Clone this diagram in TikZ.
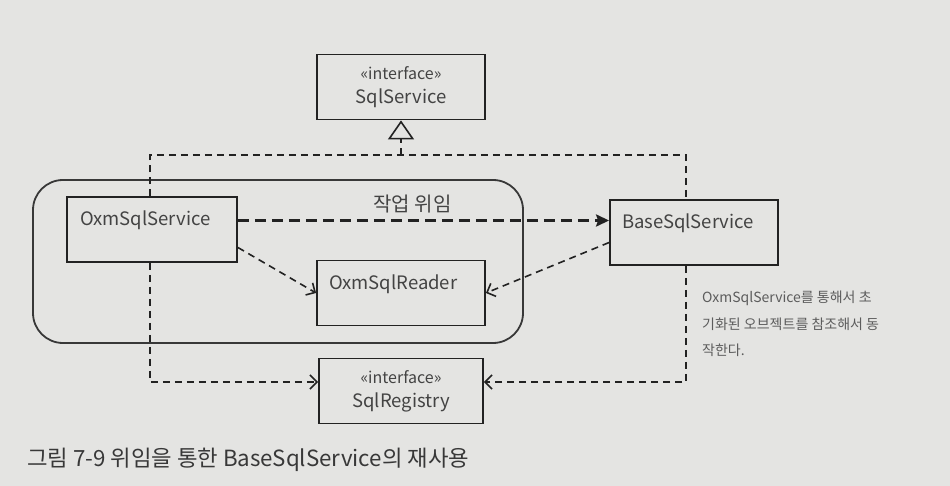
\documentclass[tikz,border=0pt]{standalone}
\usepackage{fontspec}
\setmainfont{Noto Sans CJK KR}
\usetikzlibrary{arrows.meta,positioning}
\definecolor{paper}{HTML}{E4E4E2}
\definecolor{ink}{HTML}{222222}
\definecolor{notegray}{HTML}{5C5C5C}
\tikzstyle{cls}=[draw=ink,line width=1.8pt,rectangle,minimum width=168pt,
minimum height=65pt,inner sep=0pt,text=ink!85,font=\fontsize{18.5}{22}\selectfont]
\tikzstyle{cls2}=[cls,align=left,text width=144pt]
\tikzstyle{iface}=[cls,align=center]
\tikzstyle{dep}=[draw=ink,line width=1.6pt,dash pattern=on 7pt off 5pt,
-{Straight Barb[length=7pt,width=14pt,line width=1.6pt]}]
\tikzstyle{realize}=[draw=ink,line width=1.6pt,dash pattern=on 7pt off 5pt]

\begin{document}
\begin{tikzpicture}[x=1pt, y=-1pt, node distance=100pt, on grid]
  \fill[paper] (0,0) rectangle (950,486);
  \useasboundingbox (0,0) rectangle (950,486);

  \draw[ink!90, line width=1.8pt, rounded corners=30pt] (33,180) rectangle (523,343);

  \node[iface] (svc) at (401,87) {{\fontsize{16}{17}\selectfont «interface»}\\[2pt]SqlService};
  \node[cls2, below=206pt of svc] (reader) {OxmSqlReader\\[0pt]\mbox{}};
  \node[iface, below=98pt of reader, minimum width=164pt] (reg) {{\fontsize{16}{17}\selectfont «interface»}\\[2pt]SqlRegistry};
  \node[cls2, minimum width=170pt] (oxm) at (152,229.5) {OxmSqlService\\[0pt]\mbox{}};
  \node[cls2] (base) at (694,232.5) {BaseSqlService\\[0pt]\mbox{}};

  \coordinate (bar) at (svc.south |- 0,155);
  \draw[realize] ([xshift=-2pt]oxm.north) |- (bar) -| ([xshift=-8pt]base.north);
  \draw[realize, -{Triangle[open, length=19pt, width=26pt, line width=1.6pt]}] (bar) -- (svc.south);

  \draw[draw=ink, line width=3.2pt, dash pattern=on 11pt off 6pt,
    -{Stealth[length=13pt, width=12pt, inset=2pt]}]
    ([yshift=9pt]oxm.east) -- ([yshift=9pt]oxm.east -| base.west)
    node[pos=.47, above=3pt, text=ink!85, font=\fontsize{20}{22}\selectfont] (lbl) {작업 위임};
  \draw[dep] ([yshift=-18pt]oxm.east) -- (reader.west);
  \draw[dep] ([yshift=-10pt]base.west) -- (reader.east);
  \draw[dep] ([xshift=-2pt]oxm.south) |- ([yshift=9pt]reg.west);
  \draw[dep] ([xshift=-8pt]base.south) |- ([yshift=9pt]reg.east);

  \node[anchor=north west, align=left, text=notegray, inner sep=0pt,
    font=\fontsize{14}{26.5}\selectfont] (memo) at (702,291)
    {OxmSqlService를 통해서 초\\기화된 오브젝트를 참조해서 동\\작한다.};
  \node[anchor=west, inner sep=0pt, text=ink!90, font=\fontsize{22.3}{24}\selectfont] (cap) at (27,460)
    {그림 7-9 위임을 통한 BaseSqlService의 재사용};
\end{tikzpicture}
\end{document}
